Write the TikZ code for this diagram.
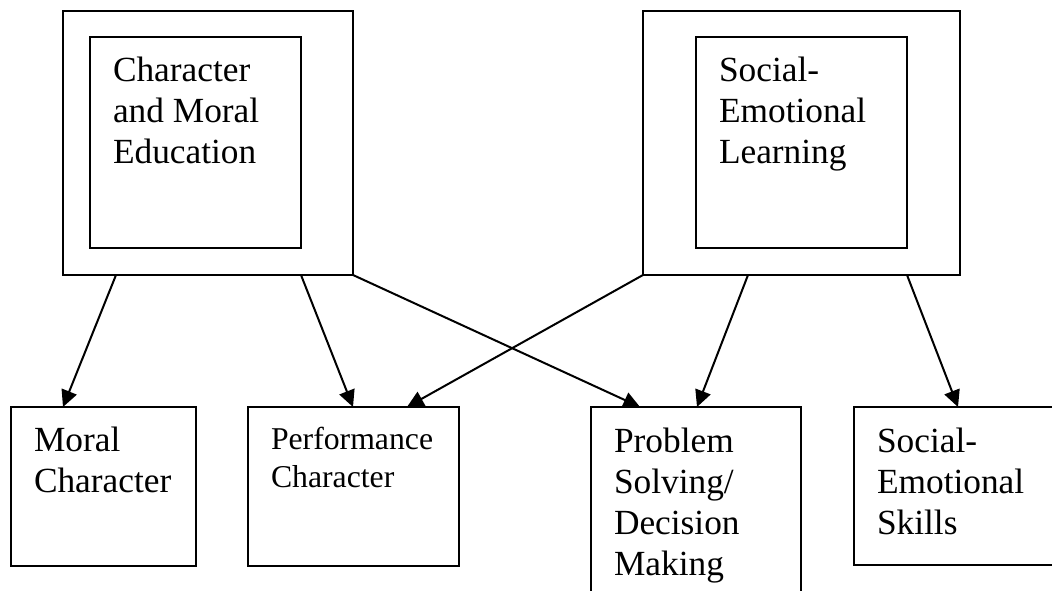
\documentclass[tikz,border=0pt]{standalone}
\usepackage{fontspec}
\setmainfont{Liberation Serif}
\usetikzlibrary{arrows.meta,calc}
\tikzset{every picture/.style={line width=1.5pt}}

\begin{document}
\begin{tikzpicture}[x=0.75pt,y=0.75pt,yscale=-1,xscale=1,
	box/.style 2 args={draw, inner sep=0pt, outer sep=0pt, anchor=north west, minimum width=#1*0.75pt, minimum height=#2*0.75pt},
	lbl/.style={anchor=base west, inner sep=0pt, align=left, font=\fontsize{26.5}{30.75}\selectfont},
	arr/.style={-{Triangle[length=12.5pt,width=12pt]}}]
	\useasboundingbox (0,0) rectangle (1052,591);
	\clip (0,0) rectangle (1052,591);

	%Outer and inner boxes, top row
	\node [box={290}{264}] (cmeOut) at (63,11) {};
	\node [box={211}{211}] (cmeIn) at (90,37) {};
	\node [box={317}{264}] (selOut) at (643,11) {};
	\node [box={211}{211}] (selIn) at (696,37) {};

	%Boxes, bottom row
	\node [box={185}{159}] (moral) at (11,407) {};
	\node [box={211}{159}] (perf) at (248,407) {};
	\node [box={210}{240}] (prob) at (591,407) {};
	\node [box={230}{158}] (skills) at (854,407) {};

	% Text Node (anchored at the baseline of the last line)
	\node [lbl] (cmeTxt) at (112,164) {Character\\and Moral\\Education};
	% Text Node
	\node [lbl] (selTxt) at (718,164) {Social-\\Emotional\\Learning};
	% Text Node
	\node [lbl] (moralTxt) at (33,492) {Moral\\Character};
	% Text Node
	\node [lbl, font=\fontsize{23.8}{28.5}\selectfont] (perfTxt) at (270,487) {Performance\\Character};
	% Text Node
	\node [lbl] (probTxt) at (613,575) {Problem\\Solving/\\Decision\\Making};
	% Text Node
	\node [lbl] (skillsTxt) at (876,534) {Social-\\Emotional\\Skills};

	%Arrows
	\draw [arr] ($(cmeOut.south west)+(53,0)$) -- ($(moral.north west)+(52,0)$);
	\draw [arr] ($(cmeOut.south west)+(238,0)$) -- ($(perf.north west)+(105,0)$);
	\draw [arr] (cmeOut.south east) -- ($(prob.north west)+(49,0)$);
	\draw [arr] (selOut.south west) -- ($(perf.north west)+(159,0)$);
	\draw [arr] ($(selOut.south west)+(105,0)$) -- ($(prob.north west)+(106,0)$);
	\draw [arr] ($(selOut.south west)+(264,0)$) -- ($(skills.north west)+(104,0)$);

\end{tikzpicture}
\end{document}
